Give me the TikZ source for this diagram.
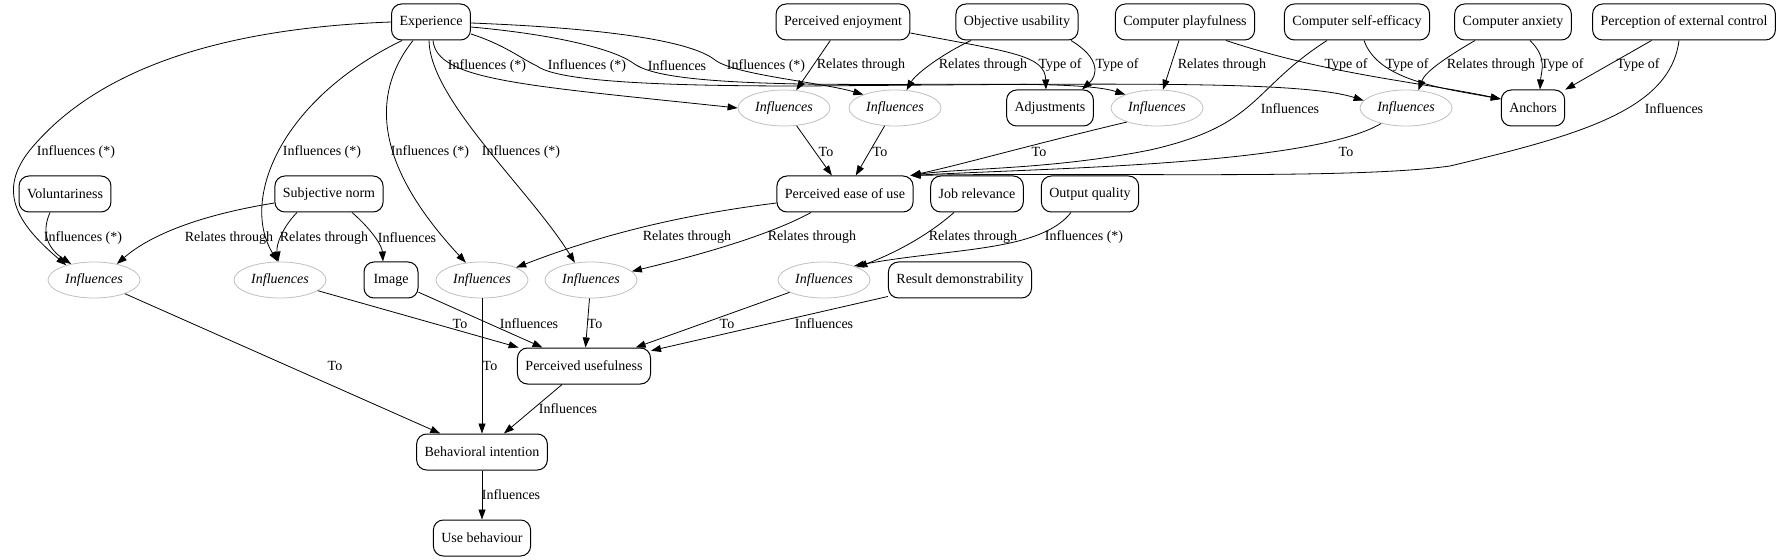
\documentclass[tikz,border=0pt]{standalone}
\usepackage{fontspec}
\setmainfont{Liberation Serif}
\usetikzlibrary{arrows.meta, shapes.geometric}

\newcommand{\gvsize}{\fontsize{14bp}{16bp}\selectfont}

\tikzset{
  factor/.style={rectangle, rounded corners=10bp, draw=black, line width=1bp,
                 minimum width=54bp, minimum height=36bp, inner xsep=8bp,
                 font=\gvsize},
  relnode/.style={ellipse, draw=black!25, line width=0.8bp,
                  minimum width=92bp, minimum height=36bp, inner sep=0pt,
                  font=\gvsize\itshape},
  elabel/.style={font=\gvsize, inner sep=0pt},
  link/.style={-{Triangle[length=10bp, width=7bp]}, line width=0.8bp}
}

\begin{document}
\begin{tikzpicture}[x=1bp, y=-1bp]
    \useasboundingbox (0,0) rectangle (1779,560);

    \node[factor] (exper)   at (431,22)  {Experience};
    \node[factor] (enjoy)   at (843,22)  {Perceived enjoyment};
    \node[factor] (objusab) at (1017,22) {Objective usability};
    \node[factor] (playful) at (1185,22) {Computer playfulness};
    \node[factor] (selfeff) at (1357,22) {Computer self-efficacy};
    \node[factor] (anxiety) at (1513,22) {Computer anxiety};
    \node[factor] (extctrl) at (1684,22) {Perception of external control};

    \node[relnode] (inA)     at (784,108)  {Influences};
    \node[relnode] (inB)     at (895,108)  {Influences};
    \node[factor]  (adjust)  at (1050,108) {Adjustments};
    \node[relnode] (inC)     at (1157,108) {Influences};
    \node[relnode] (inD)     at (1406,108) {Influences};
    \node[factor]  (anchors) at (1533,108) {Anchors};

    \node[factor] (volunt)   at (65,194)   {Voluntariness};
    \node[factor] (subjnorm) at (329,194)  {Subjective norm};
    \node[factor] (peou)     at (845,194)  {Perceived ease of use};
    \node[factor] (jobrel)   at (977,194)  {Job relevance};
    \node[factor] (outqual)  at (1090,194) {Output quality};

    \node[relnode] (inE)    at (94,280)  {Influences};
    \node[relnode] (inF)    at (280,280) {Influences};
    \node[factor]  (image)  at (391,280) {Image};
    \node[relnode] (inG)    at (482,280) {Influences};
    \node[relnode] (inH)    at (591,280) {Influences};
    \node[relnode] (inI)    at (824,280) {Influences};
    \node[factor]  (resdem) at (960,280) {Result demonstrability};

    \node[factor] (pu)  at (584,366) {Perceived usefulness};
    \node[factor] (bi)  at (482,452) {Behavioral intention};
    \node[factor] (use) at (482,538) {Use behaviour};

    % experience
    \draw[link] (exper.west) .. controls (230,28) and (100,65) .. (30,150)
                .. controls (-2,190) and (15,222) .. (inE.152);
    \draw[link] ([xshift=-29bp]exper.south) .. controls (280,100) and (240,200) .. (inF.97);
    \draw[link] ([xshift=-18bp]exper.south) .. controls (370,95) and (375,165) .. (inG.133);
    \draw[link] ([xshift=-2bp]exper.south) .. controls (430,100) and (530,190) .. (inH.133);
    \draw[link] ([xshift=2bp]exper.south) .. controls (437,80) and (520,85) .. (inA.west);
    \draw[link] ([yshift=-12bp]exper.east) .. controls (505,45) and (520,58) .. (537,66)
                .. controls (556,80) and (640,86) .. (800,86)
                .. controls (1100,84) and (1300,80) .. (inD.170);
    \draw[link] ([yshift=-5bp]exper.east) .. controls (560,35) and (615,50) .. (633,63)
                .. controls (650,76) and (700,82) .. (800,84)
                .. controls (950,86) and (1080,80) .. (inC.157);
    \draw[link] ([yshift=-1bp]exper.east) .. controls (600,28) and (690,40) .. (715,60)
                .. controls (735,75) and (820,82) .. (inB.157);

    % top row
    \draw[link] (enjoy) -- (inA);
    \draw[link] ([xshift=-46bp]objusab.south) .. controls (940,55) and (915,75) .. (inB.57);
    \draw[link] ([yshift=-11bp]enjoy.east) .. controls (1010,52) and (1045,55) .. ([xshift=-4bp]adjust.north);
    \draw[link] ([xshift=54bp]objusab.south) .. controls (1100,58) and (1098,75) .. ([xshift=32bp]adjust.north);
    \draw[link] (playful) -- (inC);
    \draw[link] ([xshift=41bp]playful.south) .. controls (1330,75) and (1420,82) .. ([yshift=9bp]anchors.west);
    \draw[link] ([xshift=-30bp]selfeff.south) .. controls (1250,90) and (1260,125) .. (1150,150)
                .. controls (1050,170) and (960,168) .. ([xshift=-3bp]peou.north east);
    \draw[link] ([xshift=7bp]selfeff.south) .. controls (1378,80) and (1440,88) .. ([yshift=9bp]anchors.west);
    \draw[link] ([xshift=-38bp]anxiety.south) .. controls (1445,58) and (1425,72) .. (inD.55);
    \draw[link] ([xshift=17bp]anxiety.south) .. controls (1548,58) and (1541,72) .. ([xshift=7bp]anchors.north);
    \draw[link] (extctrl) -- (anchors);
    \draw[link] ([xshift=-5bp]extctrl.south) .. controls (1670,110) and (1580,135) .. (1450,166)
                .. controls (1350,180) and (1100,172) .. ([xshift=-3bp]peou.north east);

    % into ease of use
    \draw[link] (inD.212) .. controls (1310,165) and (1050,168) .. ([xshift=-3bp]peou.north east);
    \draw[link] (inC.205) .. controls (1030,145) and (960,165) .. ([xshift=-3bp]peou.north east);
    \draw[link] (inA) -- (peou);
    \draw[link] (inB) -- (peou);

    % middle
    \draw[link] ([xshift=-15bp]volunt.south) .. controls (40,235) and (50,250) .. (inE.145);
    \draw[link] ([yshift=-9bp]subjnorm.west) .. controls (200,215) and (150,235) .. (inE.35);
    \draw[link] ([xshift=-32bp]subjnorm.south) .. controls (282,228) and (276,245) .. (inF.95);
    \draw[link] ([xshift=23bp]subjnorm.south) .. controls (370,228) and (382,245) .. ([xshift=-8bp]image.north);
    \draw[link] ([yshift=-9bp]peou.west) .. controls (680,215) and (600,235) .. (inG.20);
    \draw[link] ([xshift=-34bp]peou.south) .. controls (770,235) and (700,255) .. (inH.12);
    \draw[link] ([xshift=-23bp]jobrel.south) .. controls (925,238) and (890,255) .. (inI.21);
    \draw[link] ([xshift=-19bp]outqual.south) .. controls (1040,252) and (950,248) .. (inI.25);

    % bottom
    \draw[link] (inE) -- (bi);
    \draw[link] (inF) -- (pu);
    \draw[link] (image) -- (pu);
    \draw[link] (inG) -- (bi);
    \draw[link] (inH) -- (pu);
    \draw[link] (inI) -- (pu);
    \draw[link] (resdem) -- (pu);
    \draw[link] (pu) -- (bi);
    \draw[link] (bi) -- (use);

    % labels
    \node[elabel] (lbExpE) at (76,152)  {Influences (*)};
    \node[elabel] (lbExpF) at (322,152) {Influences (*)};
    \node[elabel] (lbExpG) at (430,152) {Influences (*)};
    \node[elabel] (lbExpH) at (521,152) {Influences (*)};
    \node[elabel] (lbExpA) at (487,66)  {Influences (*)};
    \node[elabel] (lbExpD) at (587,66)  {Influences (*)};
    \node[elabel] (lbExpC) at (677,66)  {Influences};
    \node[elabel] (lbExpB) at (766,66)  {Influences (*)};
    \node[elabel] (lbEnjA) at (861,65)  {Relates through};
    \node[elabel] (lbObjB) at (983,65)  {Relates through};
    \node[elabel] (lbEnjAdj) at (1060,65) {Type of};
    \node[elabel] (lbObjAdj) at (1117,65) {Type of};
    \node[elabel] (lbPlyC) at (1222,65) {Relates through};
    \node[elabel] (lbPlyAnc) at (1346,65) {Type of};
    \node[elabel] (lbSlfPeou) at (1290,109) {Influences};
    \node[elabel] (lbSlfAnc) at (1407,65) {Type of};
    \node[elabel] (lbAnxD) at (1491,65) {Relates through};
    \node[elabel] (lbAnxAnc) at (1562,65) {Type of};
    \node[elabel] (lbExtAnc) at (1638,65) {Type of};
    \node[elabel] (lbExtPeou) at (1674,109) {Influences};
    \node[elabel] (lbDPeou) at (1346,152) {To};
    \node[elabel] (lbCPeou) at (1039,152) {To};
    \node[elabel] (lbAPeou) at (826,152)  {To};
    \node[elabel] (lbBPeou) at (880,152)  {To};
    \node[elabel] (lbVolE)  at (83,238)   {Influences (*)};
    \node[elabel] (lbSubE)  at (229,238)  {Relates through};
    \node[elabel] (lbSubF)  at (324,238)  {Relates through};
    \node[elabel] (lbSubImg) at (407,238) {Influences};
    \node[elabel] (lbPeouG) at (687,237)  {Relates through};
    \node[elabel] (lbPeouH) at (812,237)  {Relates through};
    \node[elabel] (lbJobI)  at (973,237)  {Relates through};
    \node[elabel] (lbOutI)  at (1084,237) {Influences (*)};
    \node[elabel] (lbEBi)   at (335,366)  {To};
    \node[elabel] (lbFPu)   at (460,324)  {To};
    \node[elabel] (lbImgPu) at (529,324)  {Influences};
    \node[elabel] (lbGBi)   at (490,366)  {To};
    \node[elabel] (lbHPu)   at (595,324)  {To};
    \node[elabel] (lbIPu)   at (727,324)  {To};
    \node[elabel] (lbResPu) at (824,324)  {Influences};
    \node[elabel] (lbPuBi)  at (568,409)  {Influences};
    \node[elabel] (lbBiUse) at (511,495)  {Influences};
\end{tikzpicture}
\end{document}
